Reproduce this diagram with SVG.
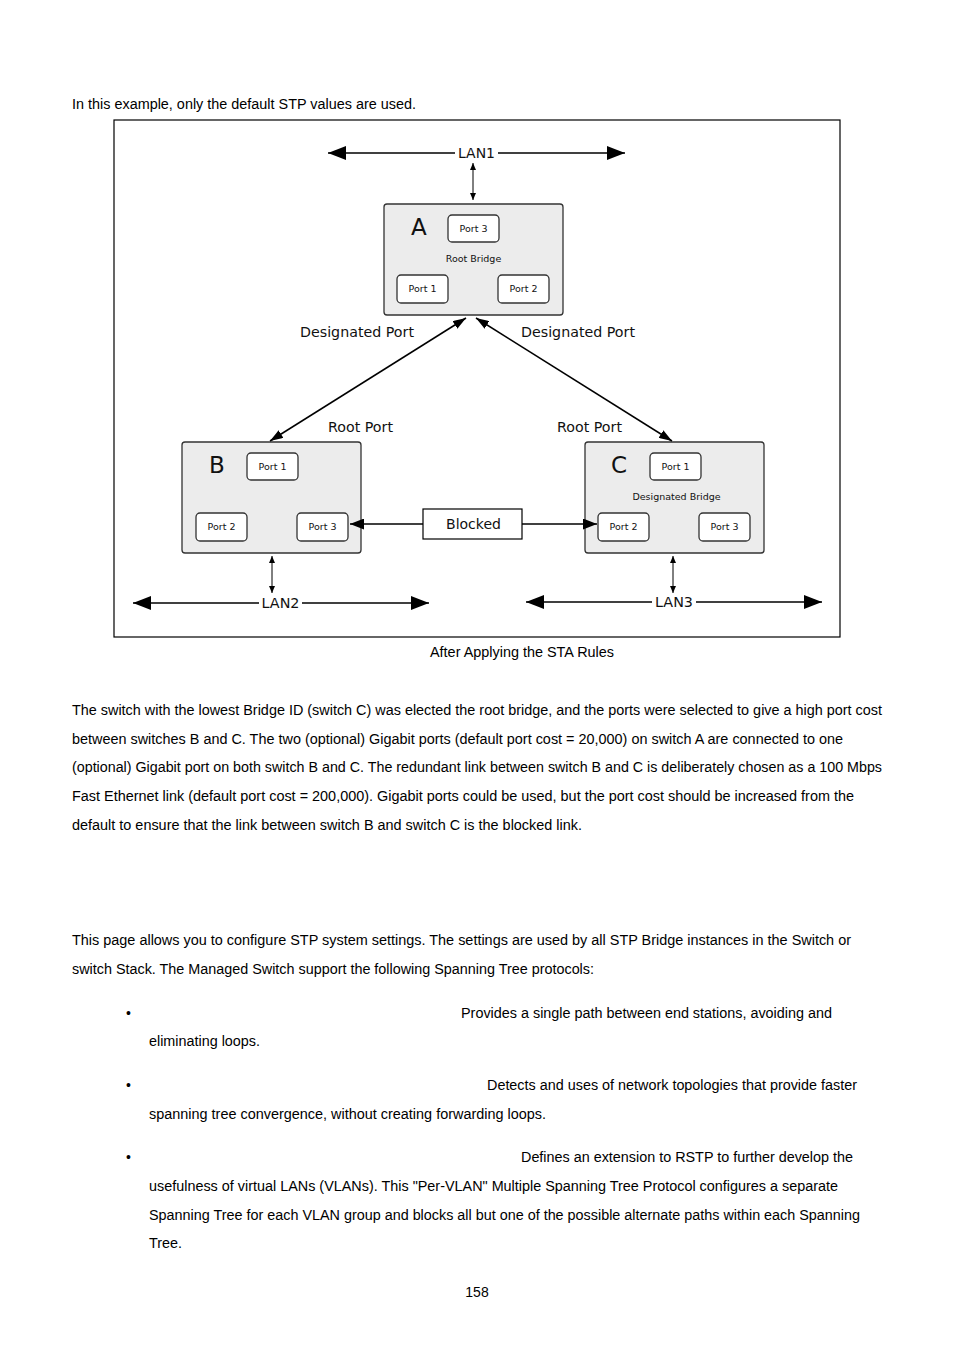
<svg xmlns="http://www.w3.org/2000/svg" width="954" height="1350" viewBox="0 0 954 1350">
<style>
.body{font-family:"Liberation Sans",Arial,sans-serif;font-size:14px;fill:#000}
.lbl{font-family:"DejaVu Sans",Verdana,sans-serif;font-size:14px;fill:#111}
.lan{font-family:"DejaVu Sans",Verdana,sans-serif;font-size:14px;fill:#111}
.port{font-family:"DejaVu Sans",Verdana,sans-serif;font-size:9.5px;fill:#111}
.big{font-family:"DejaVu Sans",Verdana,sans-serif;font-size:23px;fill:#111}
.sw{fill:#ececec;stroke:#333;stroke-width:1.3}
.pb{fill:#fff;stroke:#333;stroke-width:1.3}
.ln{stroke:#000;stroke-width:1.5;fill:none}
.thin{stroke:#000;stroke-width:1;fill:none}
</style>
<defs>
<marker id="aBig" viewBox="0 0 18 14" refX="18" refY="7" markerWidth="18" markerHeight="14" markerUnits="userSpaceOnUse" orient="auto-start-reverse"><path d="M0,0 L18,7 L0,14 z" fill="#000"/></marker>
<marker id="aMid" viewBox="0 0 13 9" refX="13" refY="4.5" markerWidth="13" markerHeight="9" markerUnits="userSpaceOnUse" orient="auto-start-reverse"><path d="M0,0 L13,4.5 L0,9 z" fill="#000"/></marker>
<marker id="aBlk" viewBox="0 0 14 11" refX="14" refY="5.5" markerWidth="14" markerHeight="11" markerUnits="userSpaceOnUse" orient="auto-start-reverse"><path d="M0,0 L14,5.5 L0,11 z" fill="#000"/></marker>
<marker id="aSm" viewBox="0 0 7 6" refX="7" refY="3" markerWidth="7" markerHeight="6" markerUnits="userSpaceOnUse" orient="auto-start-reverse"><path d="M0,0 L7,3 L0,6 z" fill="#000"/></marker>
</defs>
<rect width="954" height="1350" fill="#fff"/>

<text class="body" x="72" y="109" textLength="344" lengthAdjust="spacingAndGlyphs">In this example, only the default STP values are used.</text>

<rect x="114" y="120" width="726" height="517" fill="none" stroke="#000" stroke-width="1.2"/>

<g id="lan1"><text class="lan" x="476.5" y="158" text-anchor="middle" textLength="37" lengthAdjust="spacingAndGlyphs">LAN1</text></g>
<g id="lan2"><text class="lan" x="280.5" y="608" text-anchor="middle" textLength="38" lengthAdjust="spacingAndGlyphs">LAN2</text></g>
<g id="lan3"><text class="lan" x="674" y="607" text-anchor="middle" textLength="38" lengthAdjust="spacingAndGlyphs">LAN3</text></g>

<g id="switchA">
<rect class="sw" x="384" y="204" width="179" height="111" rx="3"/>
<text class="big" x="411" y="235">A</text>
<rect class="pb" x="448" y="215" width="51" height="27" rx="4"/>
<text class="port" x="473.5" y="232" text-anchor="middle">Port 3</text>
<text class="port" x="473.5" y="262" text-anchor="middle">Root Bridge</text>
<rect class="pb" x="397" y="275" width="51" height="28" rx="4"/>
<text class="port" x="422.5" y="292" text-anchor="middle">Port 1</text>
<rect class="pb" x="498" y="275" width="51" height="28" rx="4"/>
<text class="port" x="523.5" y="292" text-anchor="middle">Port 2</text>
</g>

<g id="labels">
<text class="lbl" x="300" y="337" textLength="114" lengthAdjust="spacingAndGlyphs">Designated Port</text>
<text class="lbl" x="521" y="337" textLength="114" lengthAdjust="spacingAndGlyphs">Designated Port</text>
<text class="lbl" x="328" y="432" textLength="65" lengthAdjust="spacingAndGlyphs">Root Port</text>
<text class="lbl" x="557" y="432" textLength="65" lengthAdjust="spacingAndGlyphs">Root Port</text>
</g>

<g id="switchB">
<rect class="sw" x="182" y="442" width="179" height="111" rx="3"/>
<text class="big" x="209" y="473">B</text>
<rect class="pb" x="247" y="453" width="51" height="27" rx="4"/>
<text class="port" x="272.5" y="470" text-anchor="middle">Port 1</text>
<rect class="pb" x="196" y="513" width="51" height="28" rx="4"/>
<text class="port" x="221.5" y="530" text-anchor="middle">Port 2</text>
<rect class="pb" x="297" y="513" width="51" height="28" rx="4"/>
<text class="port" x="322.5" y="530" text-anchor="middle">Port 3</text>
</g>

<g id="switchC">
<rect class="sw" x="585" y="442" width="179" height="111" rx="3"/>
<text class="big" x="611" y="473">C</text>
<rect class="pb" x="650" y="453" width="51" height="27" rx="4"/>
<text class="port" x="675.5" y="470" text-anchor="middle">Port 1</text>
<text class="port" x="676.5" y="500" text-anchor="middle">Designated Bridge</text>
<rect class="pb" x="598" y="513" width="51" height="28" rx="4"/>
<text class="port" x="623.5" y="530" text-anchor="middle">Port 2</text>
<rect class="pb" x="699" y="513" width="51" height="28" rx="4"/>
<text class="port" x="724.5" y="530" text-anchor="middle">Port 3</text>
</g>

<g id="connectors">
<line class="ln" x1="455" y1="153" x2="328" y2="153" marker-end="url(#aBig)"/>
<line class="ln" x1="498" y1="153" x2="625" y2="153" marker-end="url(#aBig)"/>
<line class="thin" x1="473" y1="163" x2="473" y2="200" marker-start="url(#aSm)" marker-end="url(#aSm)"/>
<line class="ln" x1="466" y1="318" x2="270" y2="441" marker-start="url(#aMid)" marker-end="url(#aMid)"/>
<line class="ln" x1="476" y1="318" x2="672" y2="441" marker-start="url(#aMid)" marker-end="url(#aMid)"/>
<line class="ln" x1="423" y1="524" x2="350" y2="524" marker-end="url(#aBlk)"/>
<line class="ln" x1="522" y1="524" x2="597" y2="524" marker-end="url(#aBlk)"/>
<line class="thin" x1="272" y1="556" x2="272" y2="593" marker-start="url(#aSm)" marker-end="url(#aSm)"/>
<line class="thin" x1="673" y1="556" x2="673" y2="593" marker-start="url(#aSm)" marker-end="url(#aSm)"/>
<line class="ln" x1="259" y1="603" x2="133" y2="603" marker-end="url(#aBig)"/>
<line class="ln" x1="302" y1="603" x2="429" y2="603" marker-end="url(#aBig)"/>
<line class="ln" x1="652" y1="602" x2="526" y2="602" marker-end="url(#aBig)" stroke="#444"/>
<line class="ln" x1="696" y1="602" x2="822" y2="602" marker-end="url(#aBig)"/>
</g>

<g id="blocked">
<rect x="423" y="509" width="99" height="30" fill="#fff" stroke="#000" stroke-width="1.2"/>
<text class="lbl" x="473.5" y="529" text-anchor="middle" textLength="55" lengthAdjust="spacingAndGlyphs">Blocked</text>
</g>

<text class="body" x="430" y="657" textLength="184" lengthAdjust="spacingAndGlyphs">After Applying the STA Rules</text>

<text class="body" x="72" y="715" textLength="810" lengthAdjust="spacingAndGlyphs">The switch with the lowest Bridge ID (switch C) was elected the root bridge, and the ports were selected to give a high port cost</text>
<text class="body" x="72" y="744" textLength="771" lengthAdjust="spacingAndGlyphs">between switches B and C. The two (optional) Gigabit ports (default port cost = 20,000) on switch A are connected to one</text>
<text class="body" x="72" y="772" textLength="810" lengthAdjust="spacingAndGlyphs">(optional) Gigabit port on both switch B and C. The redundant link between switch B and C is deliberately chosen as a 100 Mbps</text>
<text class="body" x="72" y="801" textLength="782" lengthAdjust="spacingAndGlyphs">Fast Ethernet link (default port cost = 200,000). Gigabit ports could be used, but the port cost should be increased from the</text>
<text class="body" x="72" y="830" textLength="510" lengthAdjust="spacingAndGlyphs">default to ensure that the link between switch B and switch C is the blocked link.</text>

<text class="body" x="72" y="945" textLength="779" lengthAdjust="spacingAndGlyphs">This page allows you to configure STP system settings. The settings are used by all STP Bridge instances in the Switch or</text>
<text class="body" x="72" y="974" textLength="522" lengthAdjust="spacingAndGlyphs">switch Stack. The Managed Switch support the following Spanning Tree protocols:</text>

<text class="body" x="126" y="1018">•</text>
<text class="body" x="461" y="1018" textLength="371" lengthAdjust="spacingAndGlyphs">Provides a single path between end stations, avoiding and</text>
<text class="body" x="149" y="1046" textLength="111" lengthAdjust="spacingAndGlyphs">eliminating loops.</text>

<text class="body" x="126" y="1090">•</text>
<text class="body" x="487" y="1090" textLength="370" lengthAdjust="spacingAndGlyphs">Detects and uses of network topologies that provide faster</text>
<text class="body" x="149" y="1119" textLength="397" lengthAdjust="spacingAndGlyphs">spanning tree convergence, without creating forwarding loops.</text>

<text class="body" x="126" y="1162">•</text>
<text class="body" x="521" y="1162" textLength="332" lengthAdjust="spacingAndGlyphs">Defines an extension to RSTP to further develop the</text>
<text class="body" x="149" y="1191" textLength="689" lengthAdjust="spacingAndGlyphs">usefulness of virtual LANs (VLANs). This "Per-VLAN" Multiple Spanning Tree Protocol configures a separate</text>
<text class="body" x="149" y="1220" textLength="711" lengthAdjust="spacingAndGlyphs">Spanning Tree for each VLAN group and blocks all but one of the possible alternate paths within each Spanning</text>
<text class="body" x="149" y="1248" textLength="33" lengthAdjust="spacingAndGlyphs">Tree.</text>

<text class="body" x="477" y="1297" text-anchor="middle">158</text>
</svg>
